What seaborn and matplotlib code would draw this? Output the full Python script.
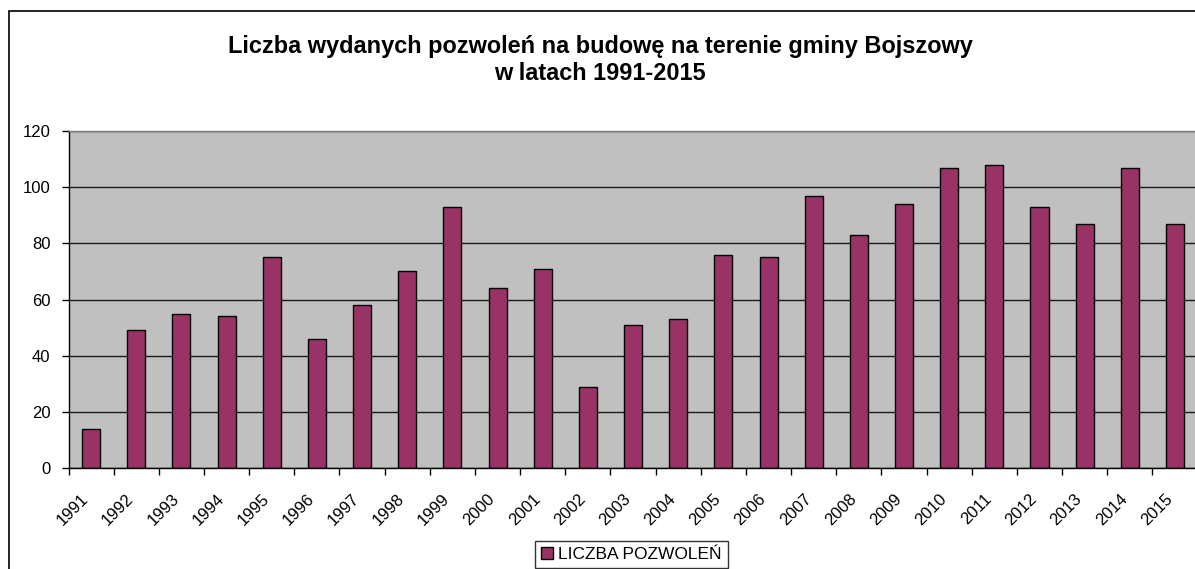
import matplotlib
matplotlib.use("Agg")
import matplotlib.pyplot as plt
import matplotlib.transforms as mtransforms
import seaborn as sns
import pandas as pd
from matplotlib.patches import Rectangle

years = [str(y) for y in range(1991, 2016)]
permits = [14, 49, 55, 54, 75, 46, 58, 70, 93, 64, 71, 29, 51, 53, 76, 75,
           97, 83, 94, 107, 108, 93, 87, 107, 87]
yticks = [0, 20, 40, 60, 80, 100, 120]
title = "Liczba wydanych pozwoleń na budowę na terenie gminy Bojszowy\nw latach 1991-2015"
series_label = "LICZBA POZWOLEŃ"

sns.set_style("white")
plt.rcParams["font.family"] = ["Liberation Sans", "DejaVu Sans"]
plt.rcParams["text.color"] = "black"
plt.rcParams["xtick.color"] = "black"
plt.rcParams["ytick.color"] = "black"

W, H = 1195, 569
fig = plt.figure(figsize=(W / 100, H / 100), dpi=100)
fig.patch.set_facecolor("white")

ax = fig.add_axes([68.5 / W, 1 - 468 / H, (1197.6 - 68.5) / W, (468 - 131) / H])
df = pd.DataFrame({"year": years, "value": permits})
sns.barplot(data=df, x="year", y="value", color="#993366", saturation=1,
            width=0.4, edgecolor="black", linewidth=1, ax=ax,
            label=series_label)
if ax.get_legend() is not None:
    ax.get_legend().remove()

ax.set_facecolor("#C0C0C0")
ax.set_xlim(-0.5, len(years) - 0.5)
ax.set_ylim(0, 120)
ax.set_yticks(yticks)
ax.set_yticklabels([str(t) for t in yticks], fontsize=12, color="black")
ax.yaxis.grid(True, color="#1a1a1a", linewidth=1)
ax.xaxis.grid(False)
ax.set_axisbelow(True)
ax.set_xlabel("")
ax.set_ylabel("")

ax.set_xticks(range(len(years)))
ax.set_xticklabels(years, rotation=45, ha="right", va="center",
                   rotation_mode="anchor", fontsize=12, color="black")
ax.tick_params(axis="x", which="major", length=0, pad=20.5)
offset = mtransforms.ScaledTranslation(-5 / 100, 0, fig.dpi_scale_trans)
for lbl in ax.get_xticklabels():
    lbl.set_transform(lbl.get_transform() + offset)
ax.set_xticks([i - 0.5 for i in range(len(years) + 1)], minor=True)
ax.tick_params(axis="x", which="minor", length=5, width=1, color="black",
               direction="out", bottom=True)
ax.tick_params(axis="y", length=5, width=1, color="black", direction="out",
               left=True, pad=8)

for s in ["left", "bottom"]:
    ax.spines[s].set_color("black")
    ax.spines[s].set_linewidth(1)
ax.spines["top"].set_color("#808080")
ax.spines["top"].set_linewidth(1)
ax.spines["right"].set_visible(False)

fig.text(600 / W, 1 - 60 / H, title, ha="center", va="center", fontsize=16.9,
         fontweight="bold", linespacing=1.2, color="black")

# chart-area border (left and top visible)
fig.add_artist(Rectangle((8.5 / W, -0.1), 1.2, 1 - 10.5 / H + 0.1,
                         transform=fig.transFigure, fill=False,
                         edgecolor="black", linewidth=1.2))

handles, labels = ax.get_legend_handles_labels()
leg = fig.legend(handles, labels, loc="upper center",
                 bbox_to_anchor=(631.5 / W, 1 - 541 / H), frameon=True,
                 fontsize=12.5, handlelength=0.7, handleheight=0.7,
                 handletextpad=0.3, borderpad=0.35, borderaxespad=0,
                 fancybox=False)
leg.get_frame().set_edgecolor("black")
leg.get_frame().set_linewidth(1)
for t in leg.get_texts():
    t.set_color("black")

fig.savefig("out.png", dpi=100, facecolor="white")
